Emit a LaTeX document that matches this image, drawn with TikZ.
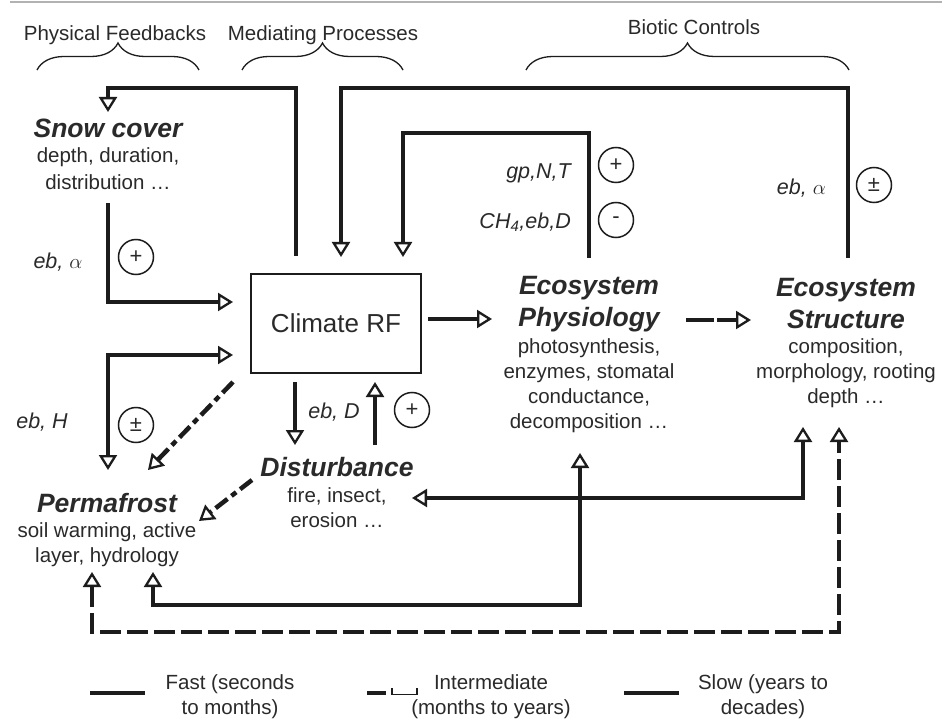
\documentclass[tikz,border=0pt]{standalone}
\usepackage{fontspec}
\setmainfont{Liberation Sans}
\usetikzlibrary{arrows.meta,decorations.pathreplacing}
\definecolor{lc}{HTML}{1C1C1C}
\definecolor{tc}{HTML}{2A2A2A}
\begin{document}
\begin{tikzpicture}[x=1pt,y=-1pt,
  >={Triangle[open,length=15pt,width=18pt,line width=2.3pt]},
  fast/.style={line width=4.5pt,draw=lc},
  inter/.style={line width=4.5pt,draw=lc,dash pattern=on 21pt off 6pt},
  intertwo/.style={line width=4.5pt,draw=lc,dash pattern=on 28pt off 3pt},
  dashdot/.style={line width=4.5pt,draw=lc,dash pattern=on 15pt off 5pt on 6pt off 5pt},
  body/.style={text=tc,align=center,font=\fontsize{20.5}{25}\selectfont,inner sep=0pt},
  title/.style={text=tc,align=center,font=\fontsize{26.5}{32}\selectfont\bfseries\itshape,inner sep=0pt},
  lab/.style={text=tc,font=\fontsize{21.5}{25}\selectfont\itshape,inner sep=0pt},
  sign/.style={circle,draw=lc,line width=1.5pt,minimum size=35pt,inner sep=0pt,text=tc,font=\fontsize{22}{24}\selectfont},
  hdr/.style={text=tc,font=\fontsize{20.5}{25}\selectfont,inner sep=0pt},
  br/.style={draw=lc,line width=1.3pt,decorate,decoration={brace,amplitude=27pt}}
]
\useasboundingbox (0,0) rectangle (942,719);
\fill[white] (0,0) rectangle (942,719);
% top rule
\draw[line width=2pt,color=black!30] (10,2) -- (942,2);

% headers and braces
\node[hdr] (hpf) at (115,35) {Physical Feedbacks};
\node[hdr] (hmp) at (323,35) {Mediating Processes};
\node[hdr] (hbc) at (694,27) {Biotic Controls};
\coordinate (b1l) at (37,70);  \coordinate (b1r) at (199,70);
\coordinate (b2l) at (242,70); \coordinate (b2r) at (403,70);
\coordinate (b3l) at (526,70); \coordinate (b3r) at (849,70);
\draw[br] (b1l) -- (b1r);
\draw[br] (b2l) -- (b2r);
\draw[br] (b3l) -- (b3r);

% main nodes
\node[title] (snowT) at (108,128) {Snow cover};
\node[body,font=\fontsize{20.5}{27}\selectfont] (snowB) at (108,169) {depth, duration,\\distribution …};
\node[draw=lc,line width=1.8pt,minimum width=170pt,minimum height=99pt,inner sep=0pt,text=tc,font=\fontsize{26}{30}\selectfont] (clim) at (336,323.5) {Climate RF};
\node[title] (permT) at (107,503) {Permafrost};
\node[body] (permB) at (107,545) {soil warming, active\\layer, hydrology};
\node[title] (distT) at (337,467) {Disturbance};
\node[body] (distB) at (337,508) {fire, insect,\\erosion …};
\node[title] (physT) at (589,304) {Ecosystem\\Physiology};
\node[body] (physB) at (589,386) {photosynthesis,\\enzymes, stomatal\\conductance,\\decomposition …};
\node[title] (strT) at (846,304) {Ecosystem\\Structure};
\node[body] (strB) at (846,373.5) {composition,\\morphology, rooting\\depth …};

% connector end points
\coordinate (c1s) at (296,256);  \coordinate (c1e) at (108,112);
\coordinate (c2s) at (848,258);  \coordinate (c2e) at (341,257);
\coordinate (c3s) at (589,258);  \coordinate (c3e) at (403,257);
\coordinate (c4s) at (108,203);  \coordinate (c4e) at (233,302);
\coordinate (c5s) at (233,355);  \coordinate (c5e) at (108,470);
\coordinate (c6s) at (233,382);  \coordinate (c6e) at (148,470);
\coordinate (c7s) at (295,382);  \coordinate (c7e) at (295,445);
\coordinate (c8s) at (375,445);  \coordinate (c8e) at (375,382);
\coordinate (c9s) at (428,319);  \coordinate (c9e) at (492,319);
\coordinate (c10s) at (686,320); \coordinate (c10e) at (751,320);
\coordinate (c11s) at (252,480); \coordinate (c11e) at (199,521);
\coordinate (c12s) at (580,453); \coordinate (c12e) at (153,572);
\coordinate (c13s) at (412,498); \coordinate (c13e) at (803,427);
\coordinate (c14s) at (92,572);  \coordinate (c14e) at (839,427);

% connectors
\draw[fast,->] (c1s) -- (296,88) -- (108,88) -- (c1e);
\draw[fast,->] (c2s) -- (848,88) -- (341,88) -- (c2e);
\draw[fast,->] (c3s) -- (589,133) -- (403,133) -- (c3e);
\draw[fast,->] (c4s) -- (108,302) -- (c4e);
\draw[fast,<->] (c5s) -- (108,355) -- (c5e);
\draw[dashdot,->] (c6s) -- (c6e);
\draw[fast,->] (c7s) -- (c7e);
\draw[fast,->] (c8s) -- (c8e);
\draw[fast,->] (c9s) -- (c9e);
\draw[intertwo,->] (c10s) -- (c10e);
\draw[dashdot,->] (c11s) -- (c11e);
\draw[fast,<->] (c12s) -- (580,605) -- (153,605) -- (c12e);
\draw[fast,<->] (c13s) -- (803,498) -- (c13e);
\draw[inter,<->] (c14s) -- (92,632) -- (839,632) -- (c14e);

% labels and signs
\node[lab] (l1) at (58,262) {eb, $\alpha$};
\node[sign] (s1) at (136,257) {+};
\node[lab] (l2) at (42,422) {eb, H};
\node[sign] (s2) at (136,425) {±};
\node[lab] (l3) at (334,412) {eb, D};
\node[sign] (s3) at (412,410) {+};
\node[lab,anchor=east] (l4) at (571,173) {gp,N,T};
\node[sign] (s4) at (616,165) {+};
\node[lab,anchor=east] (l5) at (571,222) {CH\textsubscript{4},eb,D};
\node[sign] (s5) at (616,220) {-};
\node[lab,anchor=east] (l6) at (826,188) {eb, $\alpha$};
\node[sign] (s6) at (874,185) {±};

% legend
\coordinate (lg1a) at (90,693);  \coordinate (lg1b) at (145,693);
\coordinate (lg3a) at (624,693); \coordinate (lg3b) at (679,693);
\draw[fast] (lg1a) -- (lg1b);
\draw[line width=4.5pt,draw=lc] (367,693) -- (386,693);
\draw[line width=1.3pt,draw=lc] (392,688) -- (392,694.5) -- (417,694.5) -- (417,688);
\draw[fast] (lg3a) -- (lg3b);
\node[body] (lf) at (230,697) {Fast (seconds\\to months)};
\node[body] (li) at (491,697) {Intermediate\\(months to years)};
\node[body] (ls) at (763,697) {Slow (years to\\decades)};
\end{tikzpicture}
\end{document}
